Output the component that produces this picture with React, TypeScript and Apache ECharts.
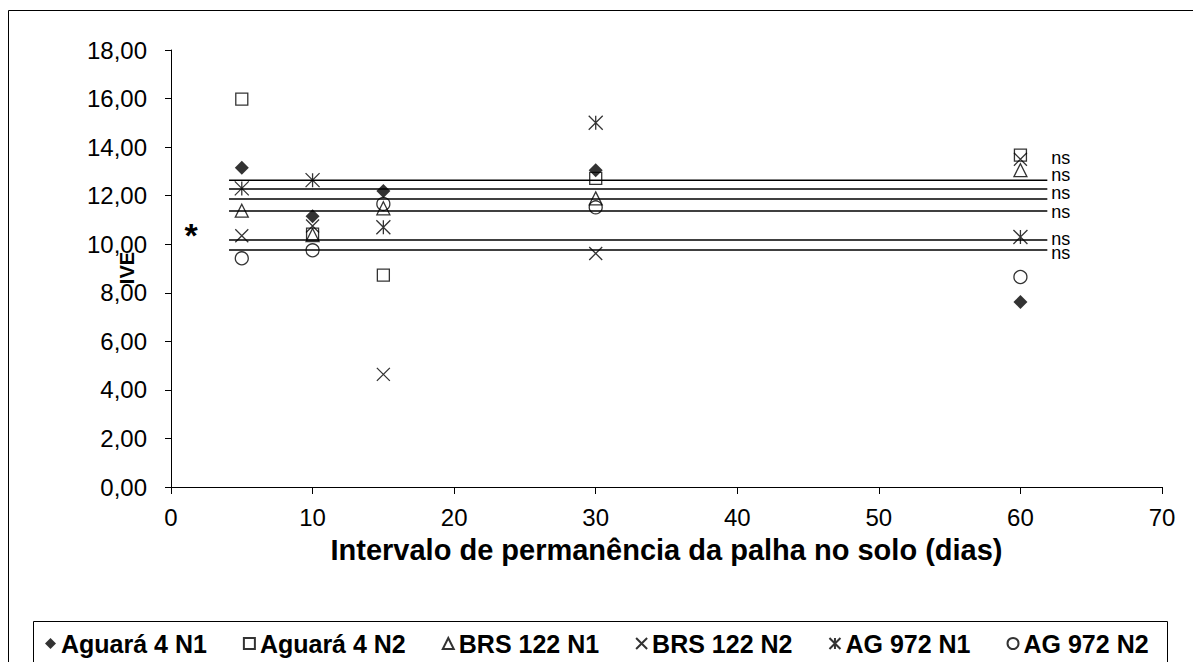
import React, { useEffect, useRef } from "react";
import * as echarts from "echarts";

const xValues = [5, 10, 15, 30, 60];
const seriesNames = ["Aguará 4 N1", "Aguará 4 N2", "BRS 122 N1", "BRS 122 N2", "AG 972 N1", "AG 972 N2"];
const aguara4N1 = [13.15, 11.15, 12.19, 13.05, 7.62];
const aguara4N2 = [15.98, 10.42, 8.73, 12.71, 13.67];
const brs122N1 = [11.38, 10.38, 11.48, 11.89, 13.05];
const brs122N2 = [10.35, 10.75, 4.64, 9.62, 13.5];
const ag972N1 = [12.3, 12.64, 10.7, 15.0, 10.3];
const ag972N2 = [9.42, 9.75, 11.66, 11.52, 8.65];
const trendLevels = [12.64, 12.27, 11.86, 11.37, 10.17, 9.76];
const trendLabel = "ns";
const trendStart = 4.1;
const trendEnd = 61.9;
const xTicks = { min: 0, max: 70, interval: 10 };
const yTicks = { min: 0, max: 18, interval: 2 };

const allValues = [aguara4N1, aguara4N2, brs122N1, brs122N2, ag972N1, ag972N2];
const symbols = [
  "diamond",
  "rect",
  "triangle",
  "path://M0,0L10,10M10,0L0,10",
  "path://M0,0L10,10M10,0L0,10M5,0L5,10",
  "circle",
];
const symbolSizes = [14, 12, 13, 13, 14, 13];
const labelOffsets = [-22, -14, -6, 1, -1, 3];
const FONT = "'Liberation Sans', Arial, sans-serif";

export default function App() {
  const ref = useRef<HTMLDivElement>(null);
  useEffect(() => {
    if (!ref.current) return;
    const chart = echarts.init(ref.current, null, { renderer: "svg" });
    const scatterSeries = seriesNames.map((name, i) => ({
      name,
      type: "scatter",
      symbol: symbols[i],
      symbolSize: symbolSizes[i],
      z: 3,
      itemStyle: {
        color: i === 0 ? "#000" : "rgba(0,0,0,0)",
        borderColor: "#000",
        borderWidth: i === 0 ? 0 : 1.3,
      },
      data: xValues.map((x, j) => [x, allValues[i][j]]),
    }));
    const trendSeries = trendLevels.map((v, i) => ({
      name: "trend" + i,
      type: "line",
      showSymbol: false,
      symbol: "none",
      z: 4,
      lineStyle: { color: "#000", width: 1.5 },
      endLabel: {
        show: true,
        formatter: trendLabel,
        fontSize: 18,
        lineHeight: 14,
        color: "#000",
        fontFamily: FONT,
        distance: 4,
        offset: [0, labelOffsets[i]],
      },
      data: [
        [trendStart, v],
        [trendEnd, v],
      ],
    }));
    chart.setOption({
      animation: false,
      textStyle: { fontFamily: FONT },
      grid: { left: 171, top: 50, right: 31, bottom: 175 },
      xAxis: {
        type: "value",
        min: xTicks.min,
        max: xTicks.max,
        interval: xTicks.interval,
        axisLine: { lineStyle: { color: "#000", width: 1 } },
        axisTick: { show: true, length: 7, lineStyle: { color: "#000" } },
        axisLabel: { fontSize: 24, color: "#000", margin: 18, fontFamily: FONT },
        splitLine: { show: false },
        name: "Intervalo de permanência da palha no solo (dias)",
        nameLocation: "middle",
        nameGap: 48,
        nameTextStyle: { fontSize: 29, fontWeight: "bold", color: "#000", fontFamily: FONT },
      },
      yAxis: {
        type: "value",
        min: yTicks.min,
        max: yTicks.max,
        interval: yTicks.interval,
        axisLine: { show: true, lineStyle: { color: "#000", width: 1 } },
        axisTick: { show: true, length: 6, lineStyle: { color: "#000" } },
        axisLabel: {
          fontSize: 24,
          color: "#000",
          margin: 24,
          fontFamily: FONT,
          formatter: (v: number) => v.toFixed(2).replace(".", ","),
        },
        splitLine: { show: false },
      },
      legend: {
        data: seriesNames,
        left: 40,
        top: 626,
        itemWidth: 11,
        itemHeight: 11,
        itemGap: 36,
        textStyle: { fontSize: 25, fontWeight: "bold", color: "#000", fontFamily: FONT },
      },
      graphic: [
        {
          type: "rect",
          shape: { x: 8.5, y: 10.5, width: 1200, height: 700 },
          style: { fill: "none", stroke: "#000", lineWidth: 1 },
          silent: true,
        },
        {
          type: "rect",
          shape: { x: 33.5, y: 621.5, width: 1134, height: 60 },
          style: { fill: "none", stroke: "#000", lineWidth: 1 },
          silent: true,
        },
        {
          type: "text",
          x: 127,
          y: 268,
          rotation: Math.PI / 2,
          style: {
            text: "IVE",
            fontSize: 20,
            fontWeight: "bold",
            fontFamily: FONT,
            fill: "#000",
            align: "center",
            verticalAlign: "middle",
          },
        },
        {
          type: "text",
          x: 191,
          y: 235,
          style: {
            text: "*",
            fontSize: 34,
            fontWeight: "bold",
            fontFamily: FONT,
            fill: "#000",
            align: "center",
            verticalAlign: "middle",
          },
        },
      ],
      series: [...scatterSeries, ...trendSeries],
    });
    return () => chart.dispose();
  }, []);
  return (
    <div
      ref={ref}
      style={{ position: "absolute", left: 0, top: 0, width: 1193, height: 662, background: "#fff" }}
    />
  );
}
